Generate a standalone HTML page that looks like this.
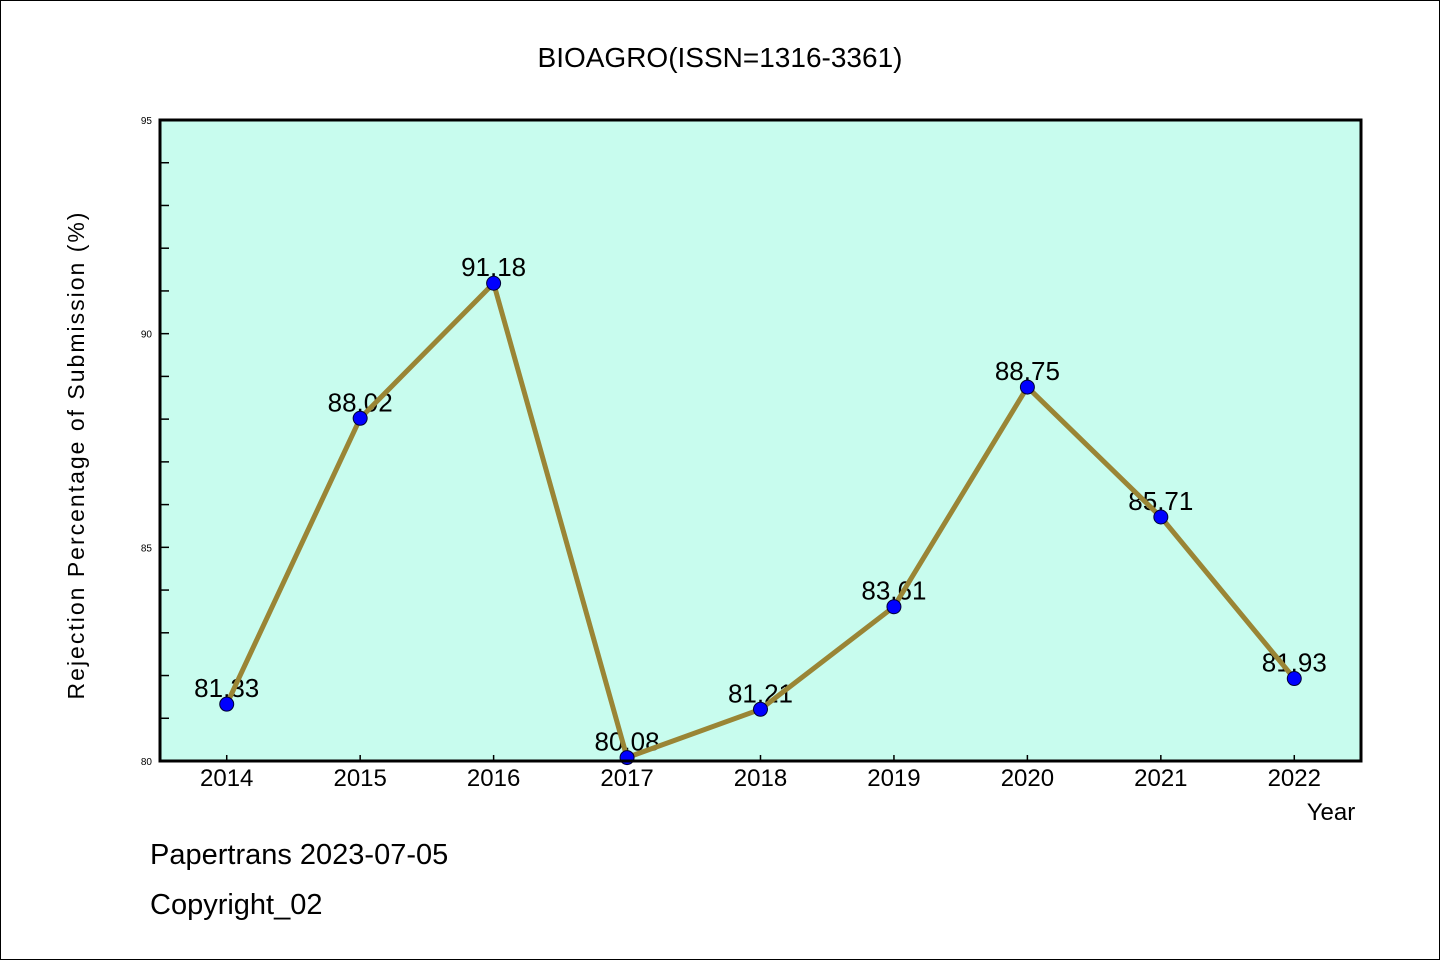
<!DOCTYPE html>
<html><head><meta charset="utf-8"><style>
html,body{margin:0;padding:0;background:#fff}
svg{display:block;font-family:"Liberation Sans","WenQuanYi Zen Hei",sans-serif}
</style></head><body>
<svg id="c" width="1440" height="960" viewBox="0 0 1440 960">
<rect x="0.5" y="0.5" width="1439" height="959" fill="#fff" stroke="#000"/>
<text x="720" y="67" text-anchor="middle" font-size="28">BIOAGRO(ISSN=1316-3361)</text>
<rect x="160" y="120" width="1201" height="641" fill="#c8fcee"/>
<g id="ticks"></g>
<g id="labels"></g>
<g id="series"></g>
<rect x="160" y="120" width="1201" height="641" fill="none" stroke="#000" stroke-width="3"/>
<text x="1331" y="820" text-anchor="middle" font-size="24">Year</text>
<text transform="translate(84,455) rotate(-90)" text-anchor="middle" font-size="23" letter-spacing="2">Rejection Percentage of Submission (%)</text>
<text x="150" y="864" font-size="29">Papertrans 2023-07-05</text>
<text x="150" y="914" font-size="29">Copyright_02</text>
</svg>
<script>
const years=["2014","2015","2016","2017","2018","2019","2020","2021","2022"];
const values=[81.33,88.02,91.18,80.08,81.21,83.61,88.75,85.71,81.93];
const valueLabels=["81.33","88.02","91.18","80.08","81.21","83.61","88.75","85.71","81.93"];
const yTicks=[80,85,90,95];
const NS="http://www.w3.org/2000/svg";
const L=160,R=1361,T=120,B=761,yMin=80,yMax=95;
const xs=i=>L+(i+0.5)*(R-L)/years.length;
const ys=v=>B-(v-yMin)/(yMax-yMin)*(B-T);
function mk(tag,at,parent,txt){const e=document.createElementNS(NS,tag);for(const k in at)e.setAttribute(k,at[k]);if(txt!=null)e.textContent=txt;parent.appendChild(e);return e;}
const tg=document.getElementById('ticks'),lg=document.getElementById('labels'),sg=document.getElementById('series');
for(let v=yMin;v<=yMax;v++){
  const y=ys(v);
  const t=mk('line',{x1:L,x2:L+9,y1:y,y2:y,stroke:'#000','stroke-width':1.5},tg);
  
  
}
yTicks.forEach(v=>{
  const t=mk('text',{x:L-8,y:ys(v)+4,'text-anchor':'end','font-size':10},tg,String(v));
  
  
});
years.forEach((yr,i)=>{
  const x=xs(i);
  const t=mk('line',{x1:x,x2:x,y1:B,y2:B-6,stroke:'#000','stroke-width':1.5},tg);
  
  
  const l=mk('text',{x:x,y:B+25,'text-anchor':'middle','font-size':24},tg,yr);
  
  
  const v=mk('text',{x:x,y:ys(values[i])-7,'text-anchor':'middle','font-size':26},lg,valueLabels[i]);
  
  
});
const pl=mk('polyline',{points:values.map((v,i)=>xs(i)+','+ys(v)).join(' '),fill:'none',stroke:'#9a8535','stroke-width':5,'stroke-linejoin':'round'},sg);


values.forEach((v,i)=>{
  const c=mk('circle',{cx:xs(i),cy:ys(v),r:7,fill:'#0000ff',stroke:'#000033','stroke-width':1},sg);
  
  
});
</script>
</body></html>
